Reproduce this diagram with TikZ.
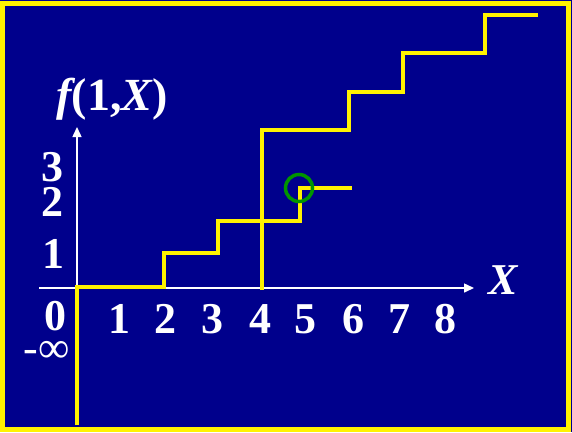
\documentclass[tikz,border=0pt]{standalone}
\usepackage{fontspec}
\setmainfont{Liberation Serif}
\usetikzlibrary{arrows.meta}
\definecolor{bgblue}{RGB}{0,0,140}
\definecolor{ringgreen}{RGB}{0,150,0}
\begin{document}
\begin{tikzpicture}[x=1pt,y=-1pt,
  lbl/.style={text=white,font=\fontsize{44}{44}\selectfont\bfseries,inner sep=0pt,anchor=base},
  stair/.style={yellow,line width=4pt,line join=miter},
  ax/.style={white,line width=1.5pt},
  tip/.style={-{Triangle[length=10pt,width=9pt]}}]
\useasboundingbox (0,0) rectangle (572,432);
\fill[bgblue] (0,0) rectangle (572,432);
\draw[yellow,line width=5pt] (2.5,3.5) rectangle (568,429.5);
% axes
\coordinate (O) at (77,288);
\coordinate (xs) at (39,288);
\coordinate (xe) at (474,288);
\coordinate (ye) at (77,127);
\draw[ax,tip] (xs) -- (xe);
\draw[ax,tip] (O) -- (ye);
% staircases
\draw[stair] (77,425) -- (77,287) -- (164,287) -- (164,253) -- (218,253) -- (218,221) -- (300,221) -- (300,188) -- (352,188);
\draw[stair] (262,290) -- (262,130) -- (349,130) -- (349,92) -- (403,92) -- (403,53) -- (485,53) -- (485,15) -- (538,15);
% ring
\node[draw=ringgreen,circle,line width=3.5pt,minimum size=27pt,inner sep=0pt] (ring) at (299,188) {};
% labels
\node[lbl,font=\fontsize{46}{46}\selectfont\bfseries] (fl) at (112,110) {\itshape f\upshape(1,\itshape X\upshape)};
\node[lbl] (xl) at (503,294) {\itshape X};
\node[lbl] (y3) at (52,181) {3};
\node[lbl] (y2) at (52,216) {2};
\node[lbl] (y1) at (53,268) {1};
\node[lbl] (x0) at (55,330) {0};
\node[lbl,font=\fontsize{44}{44}\selectfont] (minf) at (47,362) {-∞};
\node[lbl] (x1) at (119,333) {1};
\node[lbl] (x2) at (165,333) {2};
\node[lbl] (x3) at (212,333) {3};
\node[lbl] (x4) at (260,333) {4};
\node[lbl] (x5) at (305,333) {5};
\node[lbl] (x6) at (353,333) {6};
\node[lbl] (x7) at (399,333) {7};
\node[lbl] (x8) at (445,333) {8};
\end{tikzpicture}
\end{document}
